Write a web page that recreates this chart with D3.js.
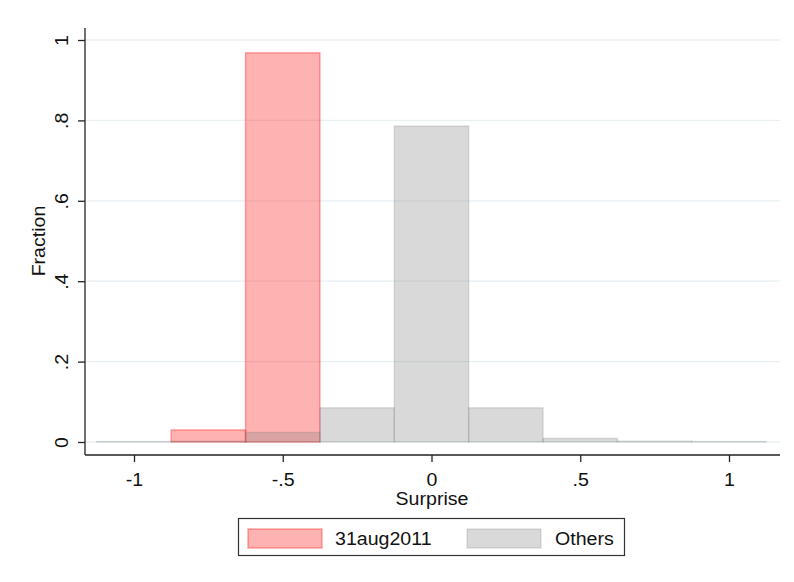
<!DOCTYPE html>
<html>
<head>
<meta charset="utf-8">
<script src="https://cdn.jsdelivr.net/npm/d3@7"></script>
<style>
  html, body { margin: 0; padding: 0; background: #fff; }
  svg { display: block; font-family: "Liberation Sans", Arial, sans-serif; }
</style>
</head>
<body>
<svg id="chart" width="794" height="582"></svg>
<script>
// Histogram bins of width 0.25 (left edges) and fraction per bin for each group
const binEdges = [-1.125, -0.875, -0.625, -0.375, -0.125, 0.125, 0.375, 0.625, 0.875];
const binWidth = 0.25;
const augustFractions = [null, 0.03, 0.968, null, null, null, null, null];
const otherFractions  = [0.001, 0.002, 0.024, 0.085, 0.786, 0.085, 0.009, 0.002, 0.001];
const xTicks = [-1, -0.5, 0, 0.5, 1];
const xTickLabels = ["-1", "-.5", "0", ".5", "1"];
const yTicks = [0, 0.2, 0.4, 0.6, 0.8, 1];
const yTickLabels = ["0", ".2", ".4", ".6", ".8", "1"];
const seriesNames = ["31aug2011", "Others"];

// text is set slightly wide: regular size, stretched along its baseline
const FONT = 17.5;
const WIDE = "scale(1.12,1)";
const svg = d3.select("#chart");
const plot = { left: 85, right: 780, top: 28, bottom: 455 };

const x = d3.scaleLinear().domain([-1, 1]).range([134, 729]);
const y = d3.scaleLinear().domain([0, 1]).range([442, 40]);

// horizontal gridlines
svg.append("g").selectAll("line").data(yTicks).join("line")
  .attr("x1", plot.left + 1).attr("x2", plot.right)
  .attr("y1", d => y(d)).attr("y2", d => y(d))
  .attr("stroke", "#e9f0f3").attr("stroke-width", 1.3);

const augStyle = { fill: "rgba(255,0,0,0.3)", stroke: "rgba(255,30,30,0.4)" };
const othStyle = { fill: "rgba(128,128,128,0.3)", stroke: "rgba(120,120,120,0.22)" };

function bars(values, style) {
  const data = values.map((v, i) => ({ x0: binEdges[i], v })).filter(d => d.v != null);
  svg.append("g").selectAll("rect").data(data).join("rect")
    .attr("x", d => x(d.x0))
    .attr("width", d => x(d.x0 + binWidth) - x(d.x0))
    .attr("y", d => y(d.v))
    .attr("height", d => y(0) - y(d.v))
    .attr("fill", style.fill)
    .attr("stroke", style.stroke)
    .attr("stroke-width", 1.4);
}
bars(augustFractions, augStyle);
bars(otherFractions, othStyle);

// axes
const yAxis = d3.axisLeft(y).tickValues(yTicks).tickFormat((d, i) => yTickLabels[i]).tickSize(7);
const gy = svg.append("g").attr("transform", `translate(${plot.left},0)`).call(yAxis);
gy.select(".domain").attr("d", `M0,${plot.top}V${plot.bottom}`);

const xAxis = d3.axisBottom(x).tickValues(xTicks).tickFormat((d, i) => xTickLabels[i]).tickSize(7);
const gx = svg.append("g").attr("transform", `translate(0,${plot.bottom})`).call(xAxis);
gx.select(".domain").attr("d", `M${plot.left},0H${plot.right}`);

[gx, gy].forEach(g => {
  g.selectAll(".domain").attr("stroke", "#222").attr("stroke-width", 1.3);
  g.selectAll(".tick line").attr("stroke", "#222").attr("stroke-width", 1.3);
  g.selectAll(".tick text").attr("font-size", FONT).attr("fill", "#111")
    .attr("font-family", "'Liberation Sans', Arial, sans-serif")
    .attr("x", 0).attr("y", 0).attr("dy", "0").attr("text-anchor", "middle");
});
gx.selectAll(".tick text").attr("transform", `translate(0,31) ${WIDE}`);
gy.selectAll(".tick text").attr("transform", `rotate(-90) translate(0,-17) ${WIDE}`);

// axis titles
svg.append("text").attr("transform", `translate(45,241) rotate(-90) ${WIDE}`)
  .attr("text-anchor", "middle").attr("font-size", FONT).attr("fill", "#111").text("Fraction");
svg.append("text").attr("transform", `translate(432,505) ${WIDE}`)
  .attr("text-anchor", "middle").attr("font-size", FONT).attr("fill", "#111").text("Surprise");

// legend
const lg = svg.append("g");
lg.append("rect").attr("x", 238.5).attr("y", 518.5).attr("width", 386).attr("height", 37)
  .attr("fill", "#fff").attr("stroke", "#333").attr("stroke-width", 1.2);
const legendItems = [
  { name: seriesNames[0], style: augStyle, sx: 248, tx: 335 },
  { name: seriesNames[1], style: othStyle, sx: 467, tx: 555 }
];
legendItems.forEach(it => {
  lg.append("rect").attr("x", it.sx).attr("y", 529).attr("width", 74).attr("height", 19)
    .attr("fill", it.style.fill).attr("stroke", it.style.stroke).attr("stroke-width", 1.4);
  lg.append("text").attr("transform", `translate(${it.tx},545) ${WIDE}`)
    .attr("font-size", FONT).attr("fill", "#111").text(it.name);
});
</script>
</body>
</html>
